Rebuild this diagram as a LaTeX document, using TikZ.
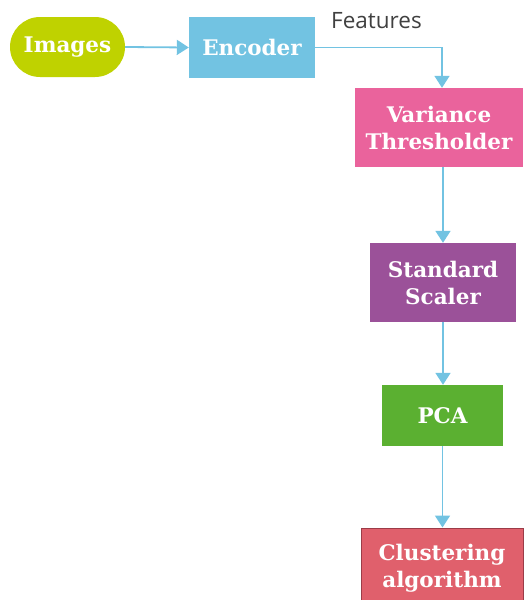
\documentclass[tikz,border=0pt]{standalone}
\usepackage{fontspec}
\setmainfont{DejaVu Serif}
\newfontfamily\labelfont{Open Sans}
\usetikzlibrary{arrows.meta}
\definecolor{cimg}{HTML}{BFD200}
\definecolor{cenc}{HTML}{72C3E2}
\definecolor{cvar}{HTML}{EA639C}
\definecolor{cstd}{HTML}{9B5199}
\definecolor{cpca}{HTML}{5BB031}
\definecolor{cclu}{HTML}{E0606C}
\definecolor{cclub}{HTML}{9C3C48}
\definecolor{ctxt}{HTML}{404040}
\begin{document}
\begin{tikzpicture}[x=1pt,y=-1pt,
  box/.style={inner sep=0pt, text=white, font=\bfseries\fontsize{21.5}{27}\selectfont, align=center},
  conn/.style={draw=cenc, line width=1.8pt, -{Triangle[length=12pt,width=15pt]}}]
\useasboundingbox (0,0) rectangle (523,600);
\node[box, fill=cimg, rounded corners=30pt, minimum width=115pt, minimum height=60pt] (img) at (67.5,47) {Images};
\node[box, fill=cenc, minimum width=126pt, minimum height=61pt] (enc) at (252,47.5) {Encoder};
\node[box, fill=cvar, minimum width=168pt, minimum height=79pt] (var) at (439,127.5) {Variance\\Thresholder};
\node[box, fill=cstd, minimum width=146pt, minimum height=79pt] (std) at (443,282.5) {Standard\\Scaler};
\node[box, fill=cpca, minimum width=121pt, minimum height=61pt] (pca) at (442.5,415.5) {PCA};
\node[box, fill=cclu, draw=cclub, line width=1pt, minimum width=162pt, minimum height=80pt] (clu) at (442,568) {Clustering\\algorithm};
\node[font=\labelfont\fontsize{22.5}{26}\selectfont, text=ctxt, anchor=west, inner sep=0pt] (feat) at (331,21) {Features};
\draw[conn] (img.east) -- (enc.west);
\draw[conn] (enc.east) -| (var.north -| 442,0);
\draw[conn] (var.south -| std.north) -- (std.north);
\draw[conn] (std.south) -- (std.south |- pca.north);
\draw[conn] (pca.south) -- (pca.south |- clu.north);
\end{tikzpicture}
\end{document}
